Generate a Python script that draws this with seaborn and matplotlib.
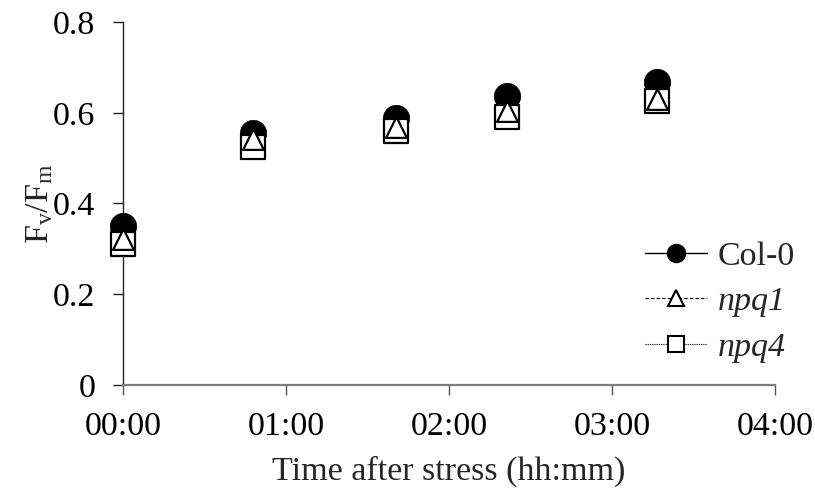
import numpy as np
import pandas as pd
import seaborn as sns
import matplotlib
matplotlib.use("Agg")
import matplotlib.pyplot as plt
from matplotlib.lines import Line2D
from matplotlib.ticker import FuncFormatter, FixedLocator

# ---- data (time in hours after stress) ----
time_h = [0.0, 0.80, 1.675, 2.355, 3.275]
col0 = [0.350, 0.556, 0.589, 0.637, 0.667]
npq1 = [0.322, 0.543, 0.569, 0.603, 0.630]
npq4 = [0.310, 0.525, 0.560, 0.591, 0.625]
series_names = ["Col-0", "npq1", "npq4"]
x_ticks = [0, 1, 2, 3, 4]
y_ticks = [0, 0.2, 0.4, 0.6, 0.8]

df = pd.DataFrame({"time": time_h * 3,
                   "value": col0 + npq1 + npq4,
                   "line": [series_names[0]] * 5 + [series_names[1]] * 5 + [series_names[2]] * 5})

sns.set_theme(style="white")
plt.rcParams["font.family"] = ["Liberation Serif", "DejaVu Serif"]
plt.rcParams["mathtext.fontset"] = "custom"
plt.rcParams["mathtext.rm"] = "Liberation Serif"
plt.rcParams["mathtext.it"] = "Liberation Serif:italic"

FS = 24.5
fig = plt.figure(figsize=(8.15, 4.9), dpi=100)
ax = fig.add_axes([123 / 815, 1 - 385 / 490, 652 / 815, 363 / 490])

# draw order: Col-0 (back), npq4, npq1 (front)
sns.scatterplot(data=df[df.line == "Col-0"], x="time", y="value", ax=ax,
                marker="o", s=19 ** 2, color="black", edgecolor="black",
                linewidth=0.5, legend=False, zorder=3, clip_on=False)
sns.scatterplot(data=df[df.line == "npq4"], x="time", y="value", ax=ax,
                marker="s", s=17 ** 2, color="white", edgecolor="black",
                linewidth=1.6, legend=False, zorder=4, clip_on=False)
sns.scatterplot(data=df[df.line == "npq1"], x="time", y="value", ax=ax,
                marker="^", s=15 ** 2, color="white", edgecolor="black",
                linewidth=1.6, legend=False, zorder=5, clip_on=False)

ax.set_xlim(0, 4)
ax.set_ylim(0, 0.8)
ax.xaxis.set_major_locator(FixedLocator(x_ticks))
ax.yaxis.set_major_locator(FixedLocator(y_ticks))
ax.xaxis.set_major_formatter(FuncFormatter(lambda v, p: f"{int(v):02d}:{int(round((v % 1) * 60)):02d}"))
ax.yaxis.set_major_formatter(FuncFormatter(lambda v, p: "0" if abs(v) < 1e-9 else f"{v:.1f}"))

for s in ["top", "right"]:
    ax.spines[s].set_visible(False)
ax.spines["left"].set_color("#222222")
ax.spines["left"].set_linewidth(1.0)
ax.spines["bottom"].set_color("#7f7f7f")
ax.spines["bottom"].set_linewidth(1.6)
ax.tick_params(axis="both", which="major", direction="out", labelsize=FS,
               labelcolor="black", length=7, width=1, bottom=True, left=True)
ax.tick_params(axis="y", color="#222222", pad=13)
ax.tick_params(axis="x", color="#555555", pad=12)

ax.set_xlabel("Time after stress (hh:mm)", fontsize=FS, labelpad=10)
ax.set_ylabel(r"F$_\mathrm{v}$/F$_\mathrm{m}$", fontsize=FS, labelpad=-2)
ax.set_facecolor("white")

handles = [
    Line2D([], [], color="black", linestyle="-", linewidth=1.0, marker="o",
           markersize=13, markerfacecolor="black", markeredgecolor="black"),
    Line2D([], [], color="black", linestyle=(0, (3, 2)), linewidth=0.8, marker="^",
           markersize=11, markerfacecolor="white", markeredgecolor="black", markeredgewidth=1.5),
    Line2D([], [], color="black", linestyle=(0, (1, 1)), linewidth=0.8, marker="s",
           markersize=11, markerfacecolor="white", markeredgecolor="black", markeredgewidth=1.5),
]
leg = fig.legend(handles, series_names, loc="upper left",
                 bbox_to_anchor=(645 / 815, 1 - 241 / 490),
                 frameon=False, fontsize=FS, handlelength=1.82, handletextpad=0.32,
                 labelspacing=0.43, borderaxespad=0, borderpad=0)
for t in leg.get_texts()[1:]:
    t.set_fontstyle("italic")
fig.savefig("out.png", dpi=100, facecolor="white")
